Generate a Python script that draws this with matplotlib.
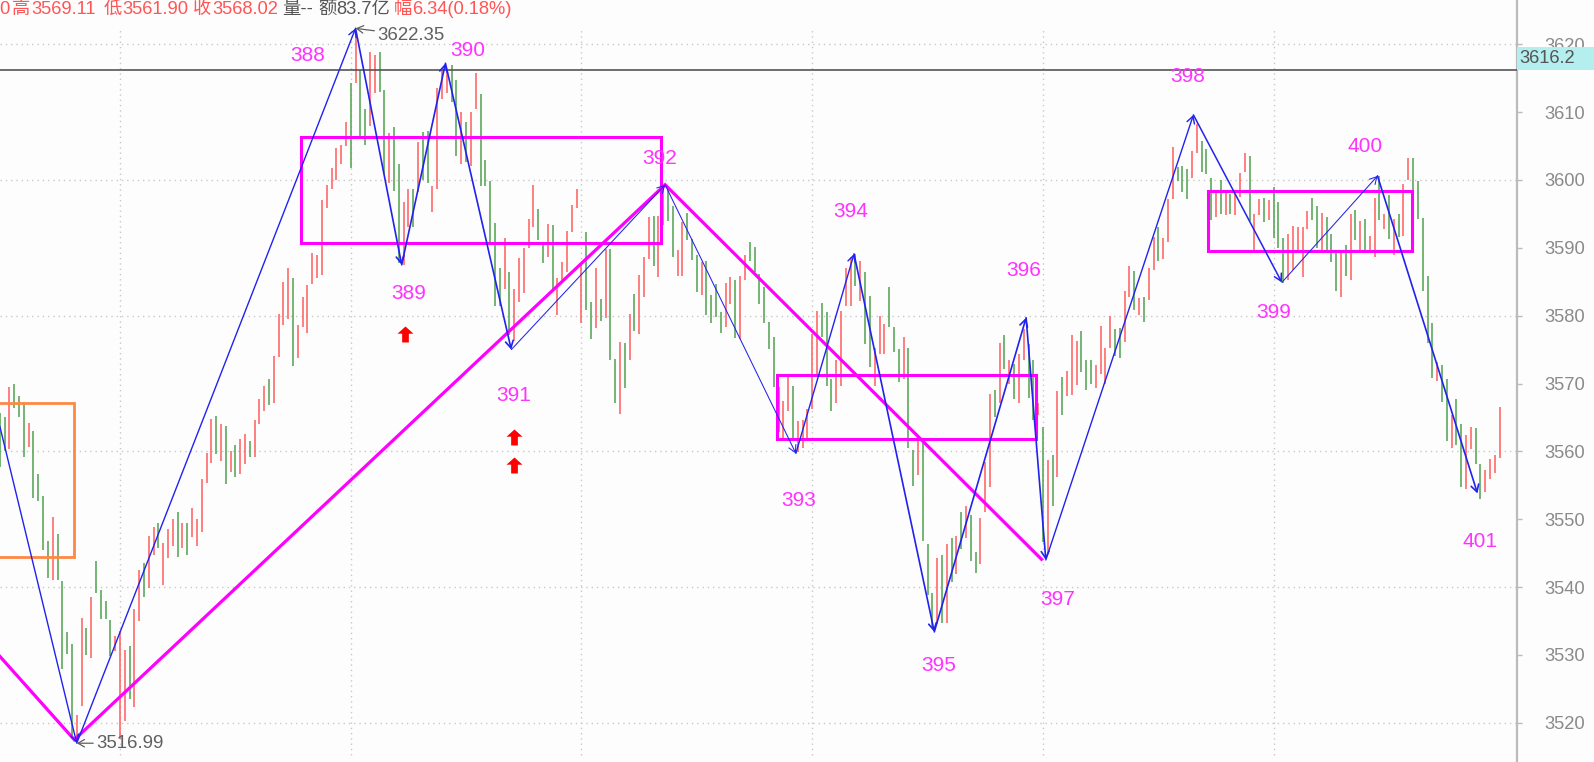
"""Index K-line chart with zigzag wave marks, redrawn from a screenshot."""
import matplotlib

matplotlib.use("Agg")
import matplotlib.pyplot as plt
import numpy as np
from matplotlib.patches import Rectangle
from matplotlib.path import Path

plt.rcParams["font.family"] = ["Liberation Sans", "Noto Sans CJK SC"]

# Bars run from index -25 to 287; a vertical grid line every 48 bars.
FIRST_BAR = -25

bar_high = [
    3565.6, 3565.1, 3569.5, 3569.9, 3568.1, 3567.3, 3564.2, 3563.0, 3556.6, 3553.5,
    3546.8, 3550.3, 3547.8, 3540.9, 3533.4, 3531.6, 3521.2, 3535.4, 3534.0, 3538.5,
    3543.8, 3539.6, 3538.0, 3535.2, 3532.8,
    3533.6, 3530.8, 3531.3, 3536.8, 3542.5, 3543.6, 3547.6, 3548.9, 3549.5, 3546.5,
    3548.6, 3550.0, 3551.1, 3549.5, 3549.5, 3551.7, 3550.0, 3556.0, 3559.8, 3564.8,
    3565.2, 3564.1, 3563.8, 3560.1, 3561.0, 3561.9, 3562.6, 3561.5, 3564.6, 3567.7,
    3569.6, 3570.6, 3574.0, 3580.3, 3584.9, 3587.1, 3585.6, 3578.7, 3582.8, 3584.5,
    3589.2, 3589.0, 3597.0, 3599.2, 3601.8, 3604.7, 3605.2, 3608.5,
    3614.3, 3621.6, 3616.2, 3610.5, 3618.9, 3618.4, 3618.9, 3613.3, 3606.9, 3607.8,
    3602.3, 3596.8, 3598.7, 3598.7, 3605.6, 3607.1, 3607.2, 3599.1, 3613.5, 3616.2,
    3616.2, 3616.9, 3614.7, 3610.0, 3608.6, 3610.0, 3615.8, 3612.7, 3602.9, 3599.8,
    3593.7, 3587.1, 3591.5, 3586.4, 3584.0, 3588.5, 3590.0, 3594.2, 3599.3, 3595.7,
    3590.7, 3593.5, 3593.3, 3585.5, 3587.9, 3592.5, 3596.3, 3598.7,
    3587.4, 3592.3, 3582.0, 3587.0, 3582.5, 3589.8, 3589.8, 3573.6, 3576.1, 3576.0,
    3580.3, 3583.2, 3586.0, 3588.7, 3594.5, 3594.7, 3594.7, 3598.9, 3598.9, 3596.1,
    3589.7, 3593.8, 3595.2, 3591.3, 3589.0, 3587.9, 3588.0, 3583.0, 3584.7, 3580.5,
    3584.8, 3585.7, 3585.2, 3585.9, 3589.0, 3590.9, 3590.1, 3586.2, 3584.2, 3579.0,
    3576.8, 3569.5, 3567.5, 3570.9, 3569.6, 3564.5, 3564.6, 3566.3,
    3577.3, 3580.7, 3581.9, 3580.5, 3570.6, 3573.4, 3580.7, 3587.1, 3588.6, 3589.1,
    3588.0, 3586.5, 3582.9, 3575.3, 3579.9, 3578.8, 3584.3, 3578.3, 3575.1, 3576.9,
    3575.2, 3560.2, 3561.8, 3561.6, 3546.3, 3539.2, 3544.3, 3544.8, 3546.3, 3547.3,
    3547.5, 3551.1, 3552.0, 3550.7, 3545.2, 3550.2, 3558.4, 3568.5, 3569.0, 3576.0,
    3577.1, 3573.4, 3572.9, 3574.4, 3578.1, 3575.9, 3573.5, 3567.2,
    3563.6, 3558.7, 3559.4, 3568.9, 3570.9, 3571.9, 3577.2, 3576.3, 3577.8, 3573.4,
    3573.4, 3572.7, 3578.5, 3575.2, 3580.0, 3578.0, 3578.2, 3583.6, 3587.3, 3586.6,
    3582.6, 3582.7, 3587.1, 3591.6, 3593.0, 3591.5, 3597.2, 3604.9, 3601.9, 3602.0,
    3601.6, 3604.3, 3608.3, 3605.8, 3604.6, 3600.3, 3598.4, 3600.0, 3598.2, 3597.9,
    3598.0, 3601.1, 3604.0, 3603.6, 3595.0, 3597.2, 3597.4, 3597.0,
    3598.9, 3596.7, 3591.4, 3592.1, 3593.2, 3593.1, 3593.1, 3595.4, 3597.4, 3596.1,
    3595.2, 3594.5, 3592.1, 3589.7, 3589.7, 3590.4, 3595.0, 3595.6, 3594.0, 3594.3,
    3591.7, 3597.4, 3600.6, 3595.0, 3597.8, 3594.3, 3595.0, 3599.4, 3603.2, 3603.2,
    3599.9, 3594.4, 3585.8, 3578.9, 3573.2, 3572.7, 3570.7, 3565.3, 3567.7, 3564.1,
    3562.4, 3563.6, 3563.5, 3558.1, 3557.2, 3558.9, 3559.4, 3566.5,
]

bar_low = [
    3557.7, 3560.0, 3560.4, 3566.4, 3565.1, 3559.2, 3560.6, 3553.2, 3552.7, 3545.5,
    3541.4, 3541.0, 3541.0, 3528.0, 3530.2, 3517.6, 3517.1, 3522.5, 3530.0, 3529.5,
    3539.2, 3535.3, 3535.3, 3529.9, 3530.6,
    3517.6, 3520.2, 3523.5, 3522.4, 3535.0, 3538.6, 3539.9, 3544.8, 3545.8, 3540.3,
    3544.3, 3546.1, 3544.4, 3545.8, 3544.8, 3547.4, 3546.1, 3548.1, 3555.3, 3558.3,
    3559.6, 3558.6, 3555.2, 3556.9, 3556.3, 3556.7, 3558.2, 3559.2, 3559.2, 3564.0,
    3566.0, 3566.9, 3567.1, 3573.9, 3578.6, 3579.5, 3572.6, 3573.7, 3578.3, 3577.4,
    3584.7, 3585.6, 3586.0, 3595.9, 3598.6, 3600.0, 3602.3, 3605.0,
    3601.7, 3614.3, 3606.0, 3605.2, 3608.0, 3612.8, 3613.0, 3600.9, 3599.6, 3598.4,
    3587.7, 3587.5, 3593.0, 3593.0, 3598.2, 3600.0, 3599.5, 3595.3, 3598.6, 3611.9,
    3612.8, 3611.5, 3603.5, 3602.3, 3602.6, 3602.0, 3610.5, 3599.1, 3599.1, 3590.7,
    3581.5, 3581.5, 3583.9, 3577.1, 3576.2, 3582.0, 3583.3, 3590.0, 3593.1, 3591.2,
    3587.8, 3588.7, 3583.8, 3580.1, 3585.3, 3586.4, 3592.4, 3595.9,
    3578.9, 3580.8, 3576.5, 3578.2, 3579.2, 3579.6, 3573.5, 3567.2, 3565.5, 3569.3,
    3573.5, 3577.7, 3577.3, 3582.7, 3588.4, 3587.3, 3585.7, 3593.3, 3593.9, 3588.6,
    3585.9, 3585.9, 3591.1, 3588.2, 3583.5, 3583.0, 3580.1, 3578.9, 3579.8, 3577.5,
    3578.4, 3581.7, 3576.7, 3576.6, 3585.3, 3588.0, 3586.4, 3581.7, 3578.9, 3575.1,
    3569.5, 3562.8, 3561.8, 3566.0, 3561.8, 3559.9, 3560.5, 3562.0,
    3566.3, 3571.4, 3576.8, 3569.7, 3565.9, 3567.2, 3569.7, 3581.5, 3581.5, 3584.4,
    3582.2, 3575.8, 3572.4, 3569.6, 3574.3, 3574.4, 3578.4, 3574.7, 3570.2, 3570.6,
    3560.5, 3554.9, 3556.5, 3546.8, 3538.9, 3534.0, 3534.5, 3534.7, 3534.7, 3540.8,
    3541.9, 3545.6, 3547.3, 3543.8, 3542.1, 3543.4, 3551.1, 3554.7, 3565.1, 3567.2,
    3572.1, 3569.9, 3567.7, 3567.2, 3573.5, 3567.8, 3564.6, 3565.3,
    3546.6, 3545.0, 3551.9, 3556.3, 3565.4, 3568.2, 3568.3, 3569.8, 3571.7, 3569.1,
    3569.9, 3569.3, 3571.4, 3570.0, 3575.2, 3574.1, 3573.7, 3576.1, 3582.8, 3580.8,
    3580.1, 3579.0, 3582.3, 3586.7, 3588.0, 3588.4, 3590.9, 3597.2, 3599.9, 3598.3,
    3597.2, 3600.3, 3604.0, 3601.2, 3600.9, 3594.1, 3594.5, 3595.0, 3594.8, 3595.0,
    3594.8, 3597.5, 3601.2, 3594.0, 3589.7, 3594.8, 3593.8, 3594.1,
    3591.4, 3590.0, 3584.8, 3585.3, 3586.7, 3589.2, 3585.7, 3592.8, 3594.1, 3590.0,
    3589.7, 3589.7, 3587.9, 3583.6, 3582.7, 3585.8, 3585.2, 3591.1, 3589.7, 3589.2,
    3589.4, 3588.7, 3594.1, 3592.8, 3591.3, 3588.9, 3591.6, 3591.8, 3600.0, 3598.0,
    3594.2, 3583.7, 3576.0, 3570.8, 3570.4, 3567.3, 3561.5, 3560.5, 3561.0, 3554.8,
    3554.5, 3560.3, 3558.2, 3553.0, 3554.0, 3556.0, 3556.8, 3559.1,
]

# "r" bars close up, "g" bars close down; laid out like the price rows above
bar_color = list(
    "ggrgggrggg" "grggggrrgr" "ggggr"
    "rrgrrgrrgr" "rrgrgrrrrr" "grgrgrrgrr" "rgrrrrgrrr" "rrrrrrrr"
    "grggrrggrg" "grrgrggrrr" "rggrgrrggg" "ggrgrrrrrg" "grgrrrrr"
    "rggrgrggrg" "rgrrrgrrgg" "rrgggrgggg" "rrgrrggggg" "ggrrgrrr"
    "rrgggrrrrg" "rggrrrgggr" "ggrgggrgrg" "rgrggrrrgr" "grgrrggr"
    "grgrgrrrgg" "grrrrggrrg" "rgrrgrrrgg" "grrgggrgrg" "rrrgrrgr"
    "gggrrrrrgg" "rgggrgrgrg" "rrgrgrgrrg" "ggggrggrgg" "rrggrrrr"
)

# Zigzag turning points: bar position, price, and the wave that leads into each.
zigzag_bar = [-25, -9, 49, 58.6, 67.7, 81.4, 113.4, 140.6, 152.7, 169.4, 188.5, 192.6, 223.3, 241.7, 261.6, 282.4]
zigzag_price = [3563.7, 3516.99, 3622.35, 3587.5, 3617.2, 3575.0, 3599.3, 3559.7, 3589.1, 3533.4, 3579.7, 3544.0, 3609.6, 3584.9, 3600.6, 3553.8]
zigzag_width = [1.0, 1.0, 1.2, 1.2, 1.2, 0.75, 0.75, 1.0, 1.2, 1.2, 1.2, 1.0, 1.1, 0.75, 1.2]

trend_bar = [-25, -9.5, 113.4, 191.7]
trend_price = [3529.8, 3517.5, 3599.3, 3544.1]

# (left bar, right bar, low price, high price)
magenta_boxes = [
    (37.55, 112.5, 3590.7, 3606.4),
    (136.6, 190.6, 3561.9, 3571.3),
    (226.4, 268.7, 3589.6, 3598.4),
]
orange_box = (-30, -9.5, 3544.4, 3567.2)

wave_labels = ["388", "389", "390", "391", "392", "393", "394", "395", "396", "397", "398", "399", "400", "401"]
wave_label_bar = [39.1, 60.1, 72.3, 82, 112.2, 141.2, 152, 170.4, 188, 195.1, 222.2, 240, 259, 282.9]
wave_label_price = [3618.3, 3583.3, 3619.1, 3568.3, 3603.2, 3552.8, 3595.4, 3528.5, 3586.6, 3538.2, 3615.2, 3580.5, 3605, 3546.7]

signal_bar = [59.2, 82, 82]
signal_price = [3577.3, 3562.1, 3558.0]

ytick_values = list(range(3520, 3621, 10))
grid_prices = list(range(3520, 3621, 20))
grid_bars = [0, 48, 96, 144, 192, 240]
cursor_price = 3616.2

# (x pixel, text, colour) for the quote strip along the top
quote_parts = [
    (-1, "0", "#ff5555"), (12, "高", "#ff5555"), (31, "3569.11", "#ff5555"),
    (104, "低", "#ff5555"), (122, "3561.90", "#ff5555"), (193, "收", "#ff5555"),
    (212, "3568.02", "#ff5555"), (282, "量--", "#555555"), (318, "额", "#555555"),
    (336, "83.7亿", "#555555"), (394, "幅", "#ff5555"), (412, "6.34(0.18%)", "#ff5555"),
]

WIDTH, HEIGHT = 1594, 762
AXIS_RIGHT = 1516.7
BAR_PX = 4.807
PRICE_PX = 6.785
MAGENTA = "#ff00ff"
BLUE = "#2222ee"

# The chart fills the picture up to the price scale on the right.
fig = plt.figure(figsize=(WIDTH / 100, HEIGHT / 100), dpi=100, facecolor="#fdfdfd")
ax = fig.add_axes([0, 0, AXIS_RIGHT / WIDTH, 1], facecolor="#fdfdfd")
ax.set_xlim(-120 / BAR_PX, (AXIS_RIGHT - 120) / BAR_PX)
ax.set_ylim(3620 - (HEIGHT - 44.3) / PRICE_PX, 3620 + 44.3 / PRICE_PX)

for side in ["top", "left", "bottom"]:
    ax.spines[side].set_visible(False)
ax.spines["right"].set_color("#bbbbbb")
ax.spines["right"].set_linewidth(1.6)
ax.set_xticks([])
ax.yaxis.tick_right()
ax.set_yticks(ytick_values)
ax.tick_params(axis="y", length=3.5, width=1, color="#bbbbbb", labelcolor="#8a8a8a", labelsize=13.2, pad=16.5)

dotted = (0, (1, 2.8))
ax.hlines(grid_prices, ax.get_xlim()[0], ax.get_xlim()[1], colors="#c8c8c8", linewidth=1.0, linestyles=[dotted], zorder=1)
ax.vlines(grid_bars, 3515.2, 3622.55, colors="#c8c8c8", linewidth=1.0, linestyles=[dotted], zorder=1)

positions = FIRST_BAR + np.arange(len(bar_high))
colors = ["#ff6464" if c == "r" else "#55a555" for c in bar_color]
ax.vlines(positions, bar_low, bar_high, colors=colors, linewidth=1.15, zorder=2)

ax.axhline(cursor_price, color="#555555", linewidth=1.2, zorder=3)

left, right, low, high = orange_box
ax.add_patch(Rectangle((left, low), right - left, high - low, fill=False, edgecolor="#ff8844", linewidth=2.0, zorder=3))
for left, right, low, high in magenta_boxes:
    ax.add_patch(Rectangle((left, low), right - left, high - low, fill=False, edgecolor=MAGENTA, linewidth=2.2, zorder=4))

ax.plot(trend_bar, trend_price, color=MAGENTA, linewidth=2.3, zorder=4, solid_joinstyle="miter")

for i in range(len(zigzag_bar) - 1):
    ax.annotate(
        "",
        xy=(zigzag_bar[i + 1], zigzag_price[i + 1]),
        xytext=(zigzag_bar[i], zigzag_price[i]),
        arrowprops=dict(
            arrowstyle="->,head_length=0.5,head_width=0.28",
            color=BLUE,
            lw=zigzag_width[i],
            shrinkA=0,
            shrinkB=0,
            mutation_scale=10,
        ),
        zorder=5,
    )

for text, bar, price in zip(wave_labels, wave_label_bar, wave_label_price):
    ax.text(bar, price, text, color="#ff33ff", fontsize=15, ha="center", va="center", zorder=6)

# Fat red up arrows under waves 389 and 391
arrow_marker = Path([(0, 1), (1, 0.1), (0.42, 0.1), (0.42, -1), (-0.42, -1), (-0.42, 0.1), (-1, 0.1), (0, 1)], closed=True)
ax.plot(signal_bar, signal_price, linestyle="none", marker=arrow_marker, markersize=11.5, color="#ff0000", markeredgewidth=0, zorder=6)

# High and low of the window with their little arrows
ax.annotate(
    "3622.35", xy=(49, 3622.35), xytext=(53.5, 3621.3), color="#606060", fontsize=13.4, va="center", zorder=7,
    arrowprops=dict(arrowstyle="->,head_length=0.35,head_width=0.2", color="#606060", lw=0.9, shrinkA=0, shrinkB=0),
)
ax.annotate(
    "3516.99", xy=(-9, 3516.99), xytext=(-5, 3516.99), color="#606060", fontsize=13.4, va="center", zorder=7,
    arrowprops=dict(arrowstyle="->,head_length=0.35,head_width=0.2", color="#606060", lw=0.9, shrinkA=0, shrinkB=0),
)

# Cursor price tag, sits over the 3620 tick label
tag_transform = ax.get_yaxis_transform()
ax.add_patch(Rectangle((1.0, cursor_price), WIDTH / AXIS_RIGHT - 1, 3.4, transform=tag_transform, facecolor="#b4eeee", edgecolor="none", clip_on=False, zorder=8))
ax.text(1.0015, cursor_price + 1.65, "3616.2", transform=tag_transform, color="#555555", fontsize=13.2, va="center", ha="left", zorder=9, clip_on=False)

for x_px, text, color in quote_parts:
    fig.text(x_px / WIDTH, 1 - 9.5 / HEIGHT, text, color=color, fontsize=13.2, ha="left", va="center")

fig.savefig("out.png", dpi=100, facecolor=fig.get_facecolor())
